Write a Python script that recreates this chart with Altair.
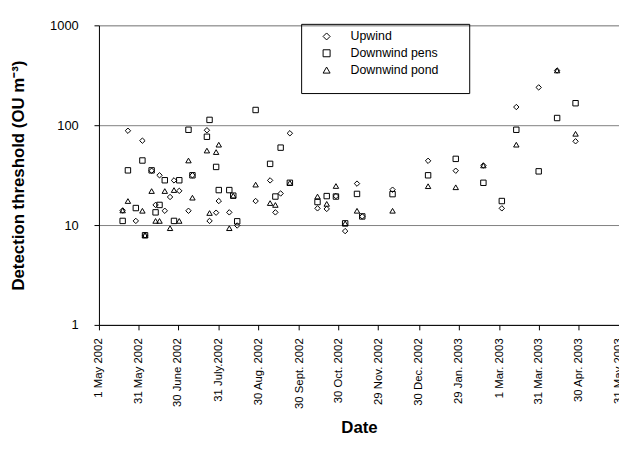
import altair as alt
import pandas as pd

series_names = ["Upwind", "Downwind pens", "Downwind pond"]

upwind_dates = ["2002-05-19", "2002-05-23", "2002-05-29", "2002-06-03", "2002-06-05", "2002-06-10",
                "2002-06-13", "2002-06-16", "2002-06-20", "2002-06-24", "2002-06-27", "2002-07-01",
                "2002-07-08", "2002-07-11", "2002-07-22", "2002-07-24", "2002-07-29", "2002-07-31",
                "2002-08-08", "2002-08-14", "2002-08-28", "2002-09-08", "2002-09-12", "2002-09-16",
                "2002-09-23", "2002-10-14", "2002-10-21", "2002-10-28", "2002-11-04", "2002-11-13",
                "2002-11-17", "2002-12-10", "2003-01-06", "2003-01-27", "2003-02-17", "2003-03-03",
                "2003-03-14", "2003-03-31", "2003-04-14", "2003-04-28"]
upwind_vals = [14.0, 88, 11.0, 70, 7.9, 35, 15.9, 31.5, 13.9, 19.1, 28, 22,
               13.9, 31.5, 89, 11.0, 13.3, 17.4, 13.4, 9.9, 17.4, 28, 13.4, 20.7,
               83, 14.7, 14.5, 19.5, 8.7, 26, 12.2, 22.6, 44, 35, 39.5, 14.7,
               152, 239, 353, 69]

pens_dates = ["2002-05-19", "2002-05-23", "2002-05-29", "2002-06-03", "2002-06-05", "2002-06-10",
              "2002-06-13", "2002-06-16", "2002-06-20", "2002-06-27", "2002-07-01", "2002-07-08",
              "2002-07-11", "2002-07-22", "2002-07-24", "2002-07-29", "2002-07-31", "2002-08-08",
              "2002-08-11", "2002-08-14", "2002-08-28", "2002-09-08", "2002-09-12", "2002-09-16",
              "2002-09-23", "2002-10-14", "2002-10-21", "2002-10-28", "2002-11-04", "2002-11-13",
              "2002-11-17", "2002-12-10", "2003-01-06", "2003-01-27", "2003-02-17", "2003-03-03",
              "2003-03-14", "2003-03-31", "2003-04-14", "2003-04-28"]
pens_vals = [11.0, 35.3, 14.8, 44.3, 7.9, 35.3, 13.4, 15.9, 28.1, 11.0, 28.1, 90,
             31.5, 76.6, 113, 38.2, 22.4, 22.4, 19.7, 10.9, 142, 41, 19.3, 59.6,
             26.5, 17.0, 19.5, 19.3, 10.4, 20.5, 12.2, 20.4, 31.5, 46, 26.5, 17.4,
             90, 34.5, 118, 166]

pond_dates = ["2002-05-19", "2002-05-23", "2002-06-03", "2002-06-05", "2002-06-10", "2002-06-13",
              "2002-06-16", "2002-06-20", "2002-06-24", "2002-06-27", "2002-07-01", "2002-07-08",
              "2002-07-11", "2002-07-22", "2002-07-24", "2002-07-29", "2002-07-31", "2002-08-08",
              "2002-08-11", "2002-08-28", "2002-09-08", "2002-09-12", "2002-09-23", "2002-10-14",
              "2002-10-21", "2002-10-28", "2002-11-04", "2002-11-13", "2002-12-10", "2003-01-06",
              "2003-01-27", "2003-02-17", "2003-03-14", "2003-04-14", "2003-04-28"]
pond_vals = [14.0, 17.4, 13.9, 7.9, 21.9, 11.0, 11.0, 21.9, 9.3, 22.4, 11.0, 44.3,
             18.8, 55.7, 13.2, 53.8, 63.8, 9.3, 19.7, 25.4, 16.6, 15.9, 26.5, 19.3,
             16.3, 24.6, 10.4, 13.9, 13.9, 24.5, 23.9, 39.5, 63.8, 353, 82]

tick_dates = [(2002, 5, 1), (2002, 5, 31), (2002, 6, 30), (2002, 7, 31), (2002, 8, 30),
              (2002, 9, 30), (2002, 10, 30), (2002, 11, 29), (2002, 12, 30), (2003, 1, 29),
              (2003, 3, 1), (2003, 3, 31), (2003, 4, 30), (2003, 5, 31)]
tick_labels = ["1 May 2002", "31 May 2002", "30 June 2002", "31 July.2002", "30 Aug. 2002",
               "30 Sept. 2002", "30 Oct. 2002", "29 Nov. 2002", "30 Dec. 2002", "29 Jan. 2003",
               "1 Mar. 2003", "31 Mar. 2003", "30 Apr. 2003", "31 May 2003"]
y_ticks = [1, 10, 100, 1000]

rows = []
for name, ds, vs in zip(series_names, [upwind_dates, pens_dates, pond_dates],
                        [upwind_vals, pens_vals, pond_vals]):
    for d, v in zip(ds, vs):
        rows.append({"date": d, "value": v, "series": name})
df = pd.DataFrame(rows)

tick_keys = ["%04d-%02d-%02d" % t for t in tick_dates]
label_expr = ("[" + ",".join("'%s'" % l for l in tick_labels) + "][indexof(["
              + ",".join("'%s'" % k for k in tick_keys)
              + "], utcFormat(datum.value, '%Y-%m-%d'))]")

FONT = "Liberation Sans"

x_enc = alt.X(
    "date:T",
    scale=alt.Scale(type="utc",
                    domain=[alt.DateTime(year=2002, month=5, date=1, utc=True),
                            alt.DateTime(year=2003, month=5, date=31, utc=True)]),
    axis=alt.Axis(
        values=[alt.DateTime(year=y, month=m, date=d, utc=True) for (y, m, d) in tick_dates],
        labelExpr=label_expr, labelAngle=-90, labelFontSize=11.5, labelFont=FONT,
        labelColor="black", labelPadding=8, labelOverlap=False, labelBound=False,
        labelFlush=False, tickSize=5, tickColor="black", domainColor="black",
        grid=False, title="Date", titleFont=FONT, titleFontSize=17, titleFontWeight="bold",
        titleColor="black", titlePadding=11),
)
y_enc = alt.Y(
    "value:Q",
    scale=alt.Scale(type="log", domain=[1, 1000]),
    axis=alt.Axis(
        values=y_ticks, format="d", labelFontSize=13, labelFont=FONT, labelColor="black",
        labelPadding=16, tickSize=5, tickColor="black", domainColor="black",
        grid=True, gridColor="#808080", gridWidth=1,
        title="Detection threshold (OU m\u207b\u00b3)", titleFont=FONT, titleFontSize=17,
        titleFontWeight="bold", titleColor="black", titlePadding=22),
)

frame = alt.Chart(pd.DataFrame({"a": [0]})).mark_rect(
    fill="white", fillOpacity=0, stroke="black", strokeWidth=1
).encode(x=alt.value(205), x2=alt.value(375), y=alt.value(-1), y2=alt.value(69))

points = alt.Chart(df).mark_point(filled=False, color="black", strokeWidth=1, opacity=1).encode(
    x=x_enc,
    y=y_enc,
    shape=alt.Shape(
        "series:N",
        scale=alt.Scale(domain=series_names, range=["diamond", "square", "triangle-up"]),
        legend=alt.Legend(
            title=None, orient="none", legendX=224, legendY=5, labelFont=FONT,
            labelFontSize=12.5, labelColor="black", labelOffset=18, rowPadding=4,
            symbolStrokeColor="black", symbolFillColor="transparent", symbolStrokeWidth=1,
            symbolSize=50, padding=0, zindex=2),
    ),
)

chart = alt.layer(frame, points).properties(
    width=526, height=303,
    autosize=alt.AutoSizeParams(type="none"),
    padding={"left": 92, "top": 15, "right": 0, "bottom": 125},
).configure_view(stroke="#808080", strokeWidth=1).configure_point(size=50).configure(font=FONT)

chart.save("out.html", embed_options={"renderer": "svg", "actions": False})
